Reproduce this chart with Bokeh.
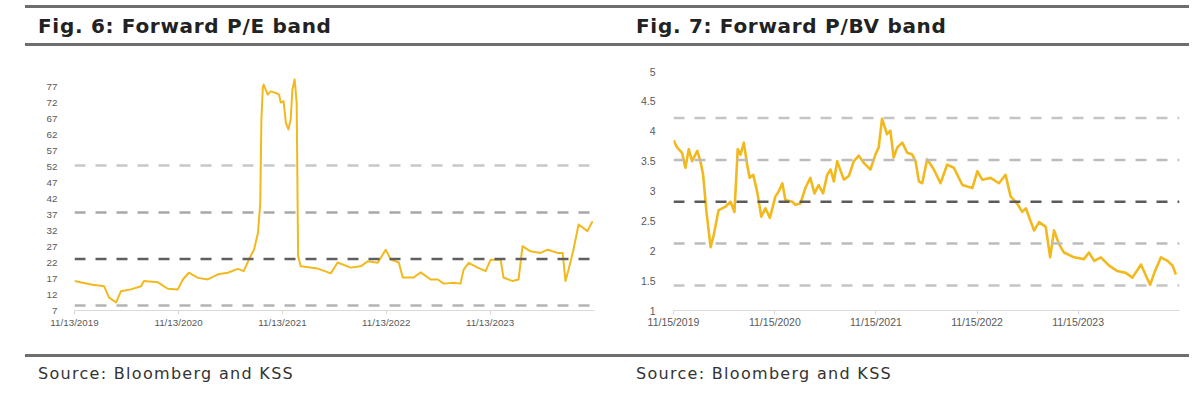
import pandas as pd
from bokeh.plotting import figure
from bokeh.models import (Span, FixedTicker, DatetimeTickFormatter, CustomJSTickFormatter,
                          Div, Range1d)
from bokeh.layouts import column, row
from bokeh.embed import file_html
from bokeh.resources import INLINE

# ---------------- data ----------------
pe_dates = ["2019-11-13", "2020-01-10", "2020-02-25", "2020-03-13", "2020-04-07", "2020-04-24",
            "2020-05-29", "2020-07-04", "2020-07-14", "2020-09-01", "2020-10-06", "2020-11-10",
            "2020-11-28", "2020-12-19", "2021-01-20", "2021-02-24", "2021-03-31", "2021-05-05",
            "2021-06-09", "2021-06-30", "2021-07-18", "2021-08-05", "2021-08-19", "2021-08-27",
            "2021-08-31", "2021-09-05", "2021-09-08", "2021-09-22", "2021-10-03", "2021-10-21",
            "2021-11-01", "2021-11-07", "2021-11-17", "2021-11-25", "2021-12-04", "2021-12-12",
            "2021-12-18", "2021-12-26", "2022-01-02", "2022-01-07", "2022-01-16", "2022-03-17",
            "2022-05-02", "2022-05-26", "2022-07-11", "2022-08-15", "2022-09-09", "2022-10-14",
            "2022-11-11", "2022-11-29", "2022-12-27", "2023-01-10", "2023-02-17", "2023-03-14",
            "2023-04-18", "2023-05-13", "2023-06-03", "2023-07-08", "2023-08-01", "2023-08-12",
            "2023-08-30", "2023-09-30", "2023-10-28", "2023-11-15", "2023-12-20", "2023-12-30",
            "2024-01-31", "2024-02-21", "2024-03-06", "2024-04-03", "2024-05-08", "2024-06-02",
            "2024-07-07", "2024-07-25", "2024-08-04", "2024-08-15", "2024-09-01", "2024-09-19",
            "2024-10-20", "2024-11-07"]
pe_values = [16.2, 15.1, 14.6, 11.1, 9.5, 13.0,
             13.6, 14.6, 16.2, 15.8, 13.8, 13.6,
             16.7, 18.8, 17.2, 16.7, 18.3, 18.8,
             20.0, 19.3, 22.9, 26.0, 31.3, 40.6,
             66.7, 76.6, 77.6, 74.5, 75.5, 75.0,
             74.5, 72.0, 72.4, 65.7, 63.6, 66.7,
             76.0, 79.2, 72.0, 24.0, 20.8, 20.1,
             18.6, 22.0, 20.4, 20.8, 22.4, 21.9,
             26.0, 22.9, 22.0, 17.3, 17.3, 18.9,
             16.7, 16.7, 15.4, 15.7, 15.4, 19.8,
             21.9, 20.4, 19.3, 22.9, 22.9, 17.3,
             16.2, 16.7, 27.1, 25.5, 25.0, 26.0,
             25.0, 25.0, 16.2, 19.8, 26.0, 33.9,
             31.8, 34.9]
pe_bands = [8.6, 23.1, 37.6, 52.3]          # -1sd, mean, +1sd, +2sd
pe_band_colors = ["#b4b4b4", "#5f5f5f", "#a8a8a8", "#c8c8c8"]
pe_yticks = list(range(7, 78, 5))
pe_xticks = ["2019-11-13", "2020-11-13", "2021-11-13", "2022-11-13", "2023-11-13"]

pbv_dates = ["2019-11-15", "2019-11-28", "2019-12-16", "2019-12-28", "2020-01-09", "2020-01-21",
             "2020-02-09", "2020-02-20", "2020-03-01", "2020-03-13", "2020-03-28", "2020-04-08",
             "2020-04-26", "2020-05-21", "2020-06-08", "2020-06-22", "2020-07-04", "2020-07-14",
             "2020-07-26", "2020-08-07", "2020-08-16", "2020-08-29", "2020-09-12", "2020-09-27",
             "2020-10-12", "2020-10-28", "2020-11-17", "2020-11-29", "2020-12-12", "2020-12-23",
             "2021-01-17", "2021-01-28", "2021-02-15", "2021-03-05", "2021-03-23", "2021-04-07",
             "2021-04-22", "2021-05-08", "2021-05-23", "2021-06-04", "2021-06-16", "2021-06-28",
             "2021-07-22", "2021-08-09", "2021-08-27", "2021-09-14", "2021-10-02", "2021-10-26",
             "2021-11-13", "2021-11-25", "2021-12-07", "2021-12-25", "2022-01-06", "2022-01-18",
             "2022-01-31", "2022-02-18", "2022-03-08", "2022-03-26", "2022-04-07", "2022-04-19",
             "2022-05-01", "2022-05-19", "2022-06-12", "2022-07-06", "2022-07-30", "2022-08-23",
             "2022-09-23", "2022-10-29", "2022-11-16", "2022-12-04", "2023-01-03", "2023-02-02",
             "2023-02-26", "2023-03-16", "2023-04-09", "2023-04-27", "2023-05-10", "2023-06-09",
             "2023-06-27", "2023-07-21", "2023-08-06", "2023-08-20", "2023-09-07", "2023-09-25",
             "2023-10-31", "2023-12-06", "2023-12-24", "2024-01-12", "2024-02-05", "2024-03-06",
             "2024-04-05", "2024-05-05", "2024-05-29", "2024-06-29", "2024-07-17", "2024-08-01",
             "2024-08-16", "2024-09-09", "2024-10-03", "2024-10-21", "2024-11-02"]
pbv_values = [3.85, 3.73, 3.64, 3.39, 3.70, 3.50,
              3.67, 3.50, 3.27, 2.65, 2.06, 2.26,
              2.68, 2.74, 2.82, 2.65, 3.70, 3.61,
              3.81, 3.44, 3.22, 3.27, 2.99, 2.57,
              2.71, 2.55, 2.91, 2.99, 3.13, 2.85,
              2.82, 2.77, 2.79, 3.05, 3.22, 2.96,
              3.10, 2.96, 3.27, 3.36, 3.16, 3.50,
              3.19, 3.25, 3.50, 3.59, 3.47, 3.36,
              3.61, 3.73, 4.21, 3.95, 4.01, 3.56,
              3.73, 3.81, 3.64, 3.61, 3.50, 3.16,
              3.13, 3.53, 3.36, 3.13, 3.44, 3.39,
              3.10, 3.05, 3.33, 3.19, 3.22, 3.13,
              3.27, 2.91, 2.79, 2.65, 2.71, 2.34,
              2.48, 2.40, 1.89, 2.34, 2.11, 1.97,
              1.89, 1.86, 1.97, 1.83, 1.89, 1.75,
              1.66, 1.63, 1.55, 1.77, 1.58, 1.43,
              1.63, 1.89, 1.83, 1.75, 1.60]
pbv_bands = [1.42, 2.12, 2.82, 3.52, 4.22]   # -2sd, -1sd, mean, +1sd, +2sd
pbv_band_colors = ["#c4c4c4", "#bcbcbc", "#5a5a5a", "#bcbcbc", "#c4c4c4"]
pbv_yticks = [1, 1.5, 2, 2.5, 3, 3.5, 4, 4.5, 5]
pbv_xticks = ["2019-11-15", "2020-11-15", "2021-11-15", "2022-11-15", "2023-11-15"]

LINE_COLOR = "#f2b91e"
LABEL_COLOR = "#595959"
FONT = "Liberation Sans"


def ms(d):
    return pd.Timestamp(d).value // 10**6


def make_fig(width, dates, values, bands, band_colors, yticks, xticks, x0, x1, y0, y1,
             borders, lw, lab_size, xstand, ystand):
    p = figure(width=width, height=291, x_axis_type="datetime", title=None,
               x_range=Range1d(pd.Timestamp(x0), pd.Timestamp(x1)),
               y_range=Range1d(y0, y1),
               output_backend="svg", toolbar_location=None,
               min_border_left=borders[0], min_border_right=borders[1],
               min_border_top=borders[2], min_border_bottom=borders[3])
    p.outline_line_color = None
    p.xgrid.grid_line_color = None
    p.ygrid.grid_line_color = None
    p.background_fill_color = "white"
    p.border_fill_color = "white"

    for b, c in zip(bands, band_colors):
        p.add_layout(Span(location=b, dimension="width", line_color=c,
                          line_width=2.5, line_dash="11 10"))

    p.line(pd.to_datetime(dates), values, line_color=LINE_COLOR, line_width=lw,
           line_join="round")

    xa = p.xaxis[0]
    xa.ticker = FixedTicker(ticks=[ms(t) for t in xticks])
    fmt = "%m/%d/%Y"
    xa.formatter = DatetimeTickFormatter(milliseconds=fmt, seconds=fmt, minsec=fmt,
                                         minutes=fmt, hourmin=fmt, hours=fmt, days=fmt,
                                         months=fmt, years=fmt)
    xa.axis_line_color = "#d9d9d9"
    xa.major_tick_line_color = "#d9d9d9"
    xa.major_tick_out = 4
    xa.major_tick_in = 0
    xa.minor_tick_line_color = None
    xa.major_label_standoff = xstand
    xa.major_label_text_font = FONT
    xa.major_label_text_font_size = f"{lab_size}px"
    xa.major_label_text_color = LABEL_COLOR

    ya = p.yaxis[0]
    ya.ticker = FixedTicker(ticks=yticks)
    ya.formatter = CustomJSTickFormatter(code="return tick.toString();")
    ya.axis_line_color = None
    ya.major_tick_line_color = None
    ya.minor_tick_line_color = None
    ya.major_label_standoff = ystand
    ya.major_label_text_font = FONT
    ya.major_label_text_font_size = f"{lab_size}px"
    ya.major_label_text_color = LABEL_COLOR
    return p


p_left = make_fig(600, pe_dates, pe_values, pe_bands, pe_band_colors, pe_yticks, pe_xticks,
                  "2019-11-13", "2024-11-14", 7, 81.7, (74, 6, 20, 32), 2, 9.8, 2, 11)
p_right = make_fig(592, pbv_dates, pbv_values, pbv_bands, pbv_band_colors, pbv_yticks, pbv_xticks,
                   "2019-11-15", "2024-11-15", 1, 5, (73, 13, 20, 32), 2.6, 10.5, 1, 12)

TITLE_STYLE = ("position:absolute;top:9px;font-family:'DejaVu Sans',sans-serif;"
               "font-weight:bold;font-size:20px;letter-spacing:0.7px;line-height:24px;"
               "color:#222;white-space:nowrap;")
header = Div(width=1184, height=41, text=(
    "<div style='position:relative;width:1184px;height:41px;'>"
    "<div style='position:absolute;left:20px;top:0px;width:1164px;height:3px;background:#6e6e6e;'></div>"
    f"<div style=\"{TITLE_STYLE}left:33px;\">Fig. 6: Forward P/E band</div>"
    f"<div style=\"{TITLE_STYLE}left:631px;\">Fig. 7: Forward P/BV band</div>"
    "<div style='position:absolute;left:20px;top:38px;width:1164px;height:3px;background:#6e6e6e;'></div>"
    "</div>"))

SRC_STYLE = ("position:absolute;top:18px;font-family:'DejaVu Sans',sans-serif;"
             "font-size:16px;letter-spacing:1.3px;line-height:18px;color:#333;white-space:nowrap;")
footer = Div(width=1184, height=40, text=(
    "<div style='position:relative;width:1184px;height:40px;'>"
    "<div style='position:absolute;left:20px;top:7px;width:1164px;height:3px;background:#6e6e6e;'></div>"
    f"<div style=\"{SRC_STYLE}left:33px;\">Source: Bloomberg and KSS</div>"
    f"<div style=\"{SRC_STYLE}left:631px;\">Source: Bloomberg and KSS</div>"
    "</div>"))

layout = column(header, row(p_left, p_right), footer)

open("out.html", "w").write(file_html(layout, INLINE))
